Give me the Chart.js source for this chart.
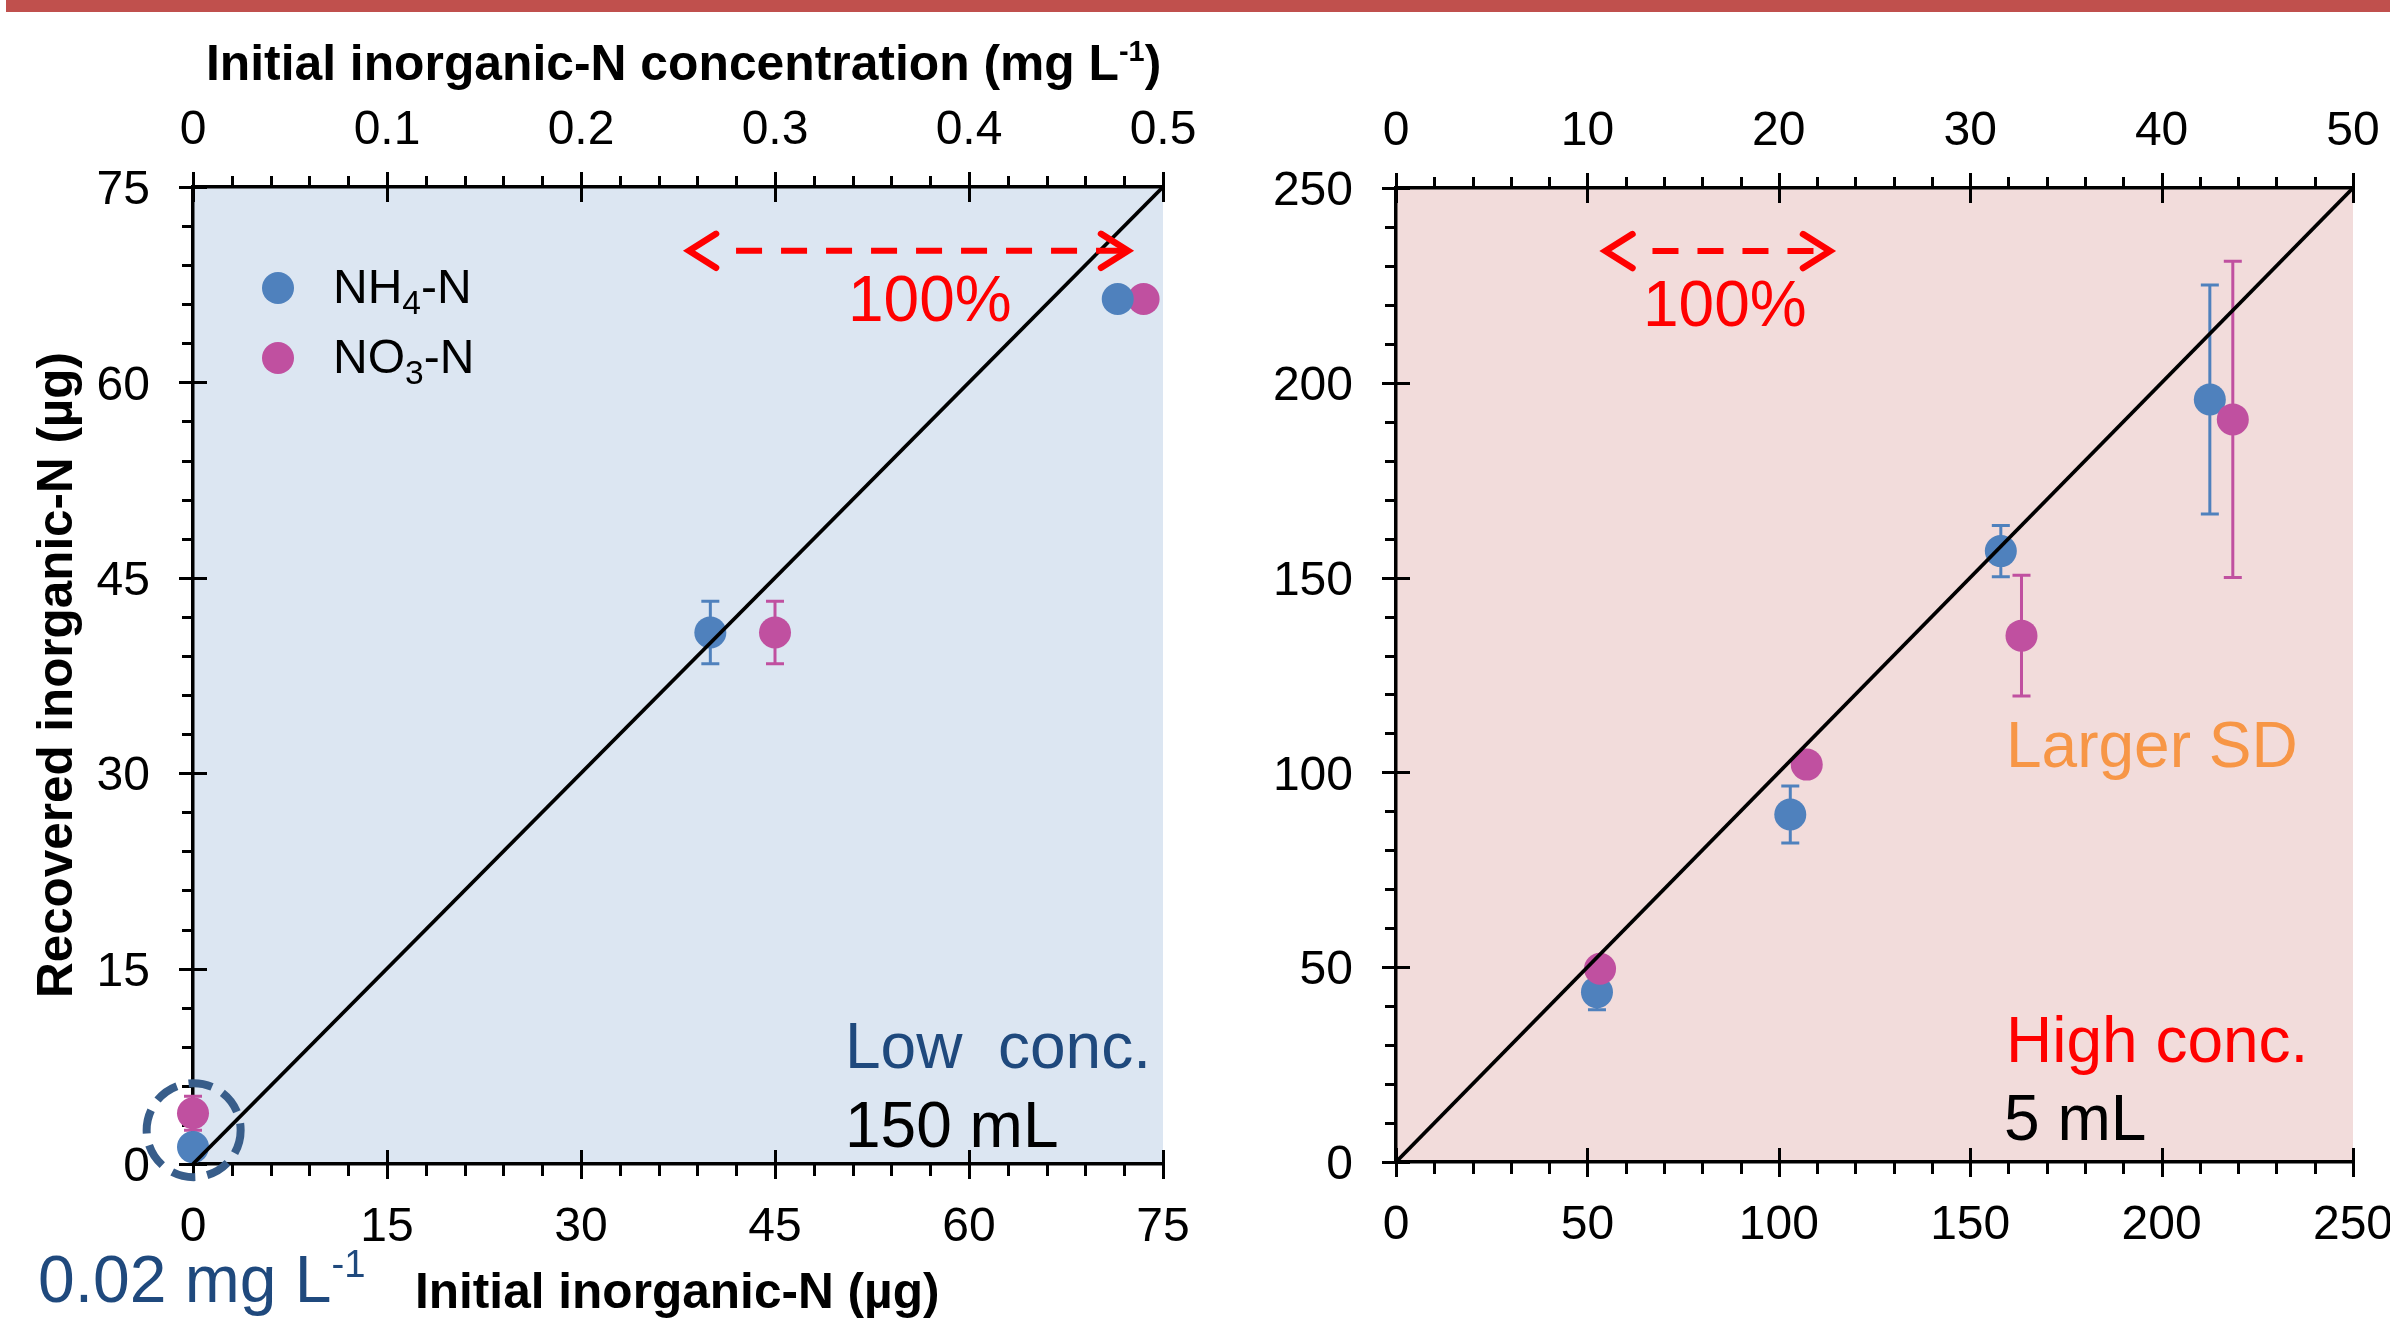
<!DOCTYPE html>
<html>
<head>
<meta charset="utf-8">
<script src="https://cdn.jsdelivr.net/npm/chart.js@4.4.1/dist/chart.umd.min.js"></script>
<style>
  body { margin: 0; width: 2390px; height: 1322px; background: #fff; overflow: hidden; position: relative; }
  #bar { position: absolute; left: 6px; top: 0; width: 2384px; height: 12px; background: #C0504D; }
  canvas { position: absolute; left: 0; top: 0; }
</style>
</head>
<body>
<div id="bar"></div>
<canvas id="low" width="2390" height="1322"></canvas>
<canvas id="high" width="2390" height="1322"></canvas>
<script>
// tick labels
const lowTicks = [0, 15, 30, 45, 60, 75];
const lowConcTicks = [0, 0.1, 0.2, 0.3, 0.4, 0.5];
const highTicks = [0, 50, 100, 150, 200, 250];
const highConcTicks = [0, 10, 20, 30, 40, 50];

// low conc. (150 mL): initial vs recovered inorganic-N (ug), with SD
const lowInitNH4 = [0, 40.0, 71.5];
const lowRecNH4 = [1.3, 40.8, 66.4];
const lowSdNH4 = [0.5, 2.4, 0];
const lowInitNO3 = [0, 45.0, 73.5];
const lowRecNO3 = [3.9, 40.8, 66.4];
const lowSdNO3 = [1.3, 2.4, 0];

// high conc. (5 mL)
const highInitNH4 = [52.5, 103.0, 158.0, 212.6];
const highRecNH4 = [43.6, 89.2, 156.8, 195.7];
const highSdNH4 = [4.5, 7.3, 6.6, 29.4];
const highInitNO3 = [53.3, 107.3, 163.4, 218.6];
const highRecNO3 = [49.6, 102.0, 135.1, 190.6];
const highSdNO3 = [0, 0, 15.5, 40.6];

const BLUE = '#4F81BD';
const PINK = '#C050A0';
const FONT = '"Liberation Sans", Arial, sans-serif';

Chart.defaults.font.family = FONT;
Chart.defaults.color = '#000';

function pts(xs, ys) {
  return xs.map((x, i) => ({ x: x, y: ys[i] }));
}

// text with sub/superscript parts: [[text, 'sub'|'sup'|null], ...]
function richText(ctx, x, y, parts, size, weight, color, rotate) {
  ctx.save();
  ctx.translate(x, y);
  if (rotate) ctx.rotate(rotate);
  ctx.fillStyle = color;
  ctx.textBaseline = 'alphabetic';
  ctx.textAlign = 'left';
  let cx = 0;
  parts.forEach(p => {
    let s = size, dy = 0;
    if (p[1] === 'sub') { s = size * 0.7; dy = size * 0.22; }
    if (p[1] === 'sup') { s = size * 0.58; dy = -size * 0.38; }
    ctx.font = weight + ' ' + s + 'px ' + FONT;
    ctx.fillText(p[0], cx, dy);
    cx += ctx.measureText(p[0]).width;
  });
  ctx.restore();
}

function drawTickMarks(chart, minor) {
  const ctx = chart.ctx, a = chart.chartArea;
  ctx.save();
  ctx.strokeStyle = '#000';
  ctx.lineWidth = 3;
  Object.keys(minor).forEach(id => {
    const s = chart.scales[id];
    const step = minor[id];
    const n = Math.round((s.max - s.min) / step);
    const majors = s.ticks.map(t => t.value);
    for (let i = 0; i <= n; i++) {
      const v = s.min + i * step;
      const isMajor = majors.some(m => Math.abs(m - v) < step / 10);
      const p = Math.round(s.getPixelForValue(v)) + 0.5;
      ctx.beginPath();
      if (s.position === 'bottom') {
        if (isMajor) { ctx.moveTo(p, a.bottom - 14); ctx.lineTo(p, a.bottom + 15); }
        else { ctx.moveTo(p, a.bottom); ctx.lineTo(p, a.bottom + 12); }
      } else if (s.position === 'top') {
        if (isMajor) { ctx.moveTo(p, a.top - 15); ctx.lineTo(p, a.top + 15); }
        else { ctx.moveTo(p, a.top); ctx.lineTo(p, a.top - 11); }
      } else {
        if (isMajor) { ctx.moveTo(a.left - 14, p); ctx.lineTo(a.left + 14, p); }
        else { ctx.moveTo(a.left, p); ctx.lineTo(a.left - 11, p); }
      }
      ctx.stroke();
    }
  });
  ctx.restore();
}

function drawErrorBars(chart) {
  const ctx = chart.ctx, xs = chart.scales.x, ys = chart.scales.y;
  ctx.save();
  ctx.lineWidth = 3;
  chart.data.datasets.forEach(ds => {
    if (!ds.sd) return;
    ctx.strokeStyle = ds.backgroundColor;
    ds.data.forEach((d, i) => {
      const e = ds.sd[i];
      if (!e) return;
      const px = xs.getPixelForValue(d.x);
      const top = ys.getPixelForValue(d.y + e), bot = ys.getPixelForValue(d.y - e);
      ctx.beginPath();
      ctx.moveTo(px, top); ctx.lineTo(px, bot);
      ctx.moveTo(px - 9, top); ctx.lineTo(px + 9, top);
      ctx.moveTo(px - 9, bot); ctx.lineTo(px + 9, bot);
      ctx.stroke();
    });
  });
  ctx.restore();
}

function drawArrow(chart, ar) {
  const ctx = chart.ctx, xs = chart.scales.x, ys = chart.scales.y;
  const x1 = xs.getPixelForValue(ar[0]), x2 = xs.getPixelForValue(ar[1]), y = ys.getPixelForValue(ar[2]);
  ctx.save();
  ctx.strokeStyle = '#FF0000';
  ctx.lineWidth = 6;
  ctx.setLineDash([26, 19]);
  ctx.beginPath();
  ctx.moveTo(x1 + 49, y); ctx.lineTo(x2 - 4, y);
  ctx.stroke();
  ctx.setLineDash([]);
  ctx.lineCap = 'round';
  ctx.lineJoin = 'miter';
  ctx.lineWidth = 6.5;
  ctx.beginPath();
  ctx.moveTo(x1 + 29, y - 17); ctx.lineTo(x1 + 2, y); ctx.lineTo(x1 + 29, y + 17);
  ctx.moveTo(x2 - 29, y - 17); ctx.lineTo(x2 - 2, y); ctx.lineTo(x2 - 29, y + 17);
  ctx.stroke();
  ctx.restore();
}

const decor = {
  id: 'decor',
  beforeDraw(chart, args, o) {
    const a = chart.chartArea, ctx = chart.ctx;
    ctx.save();
    ctx.fillStyle = o.bg;
    ctx.fillRect(a.left, a.top, a.right - a.left, a.bottom - a.top);
    ctx.restore();
  },
  beforeDatasetsDraw(chart, args, o) {
    drawTickMarks(chart, o.minor);
    drawErrorBars(chart);
  },
  afterDatasetsDraw(chart, args, o) {
    const ctx = chart.ctx;
    if (o.circle) {
      const cx = chart.scales.x.getPixelForValue(o.circle[0]);
      const cy = chart.scales.y.getPixelForValue(o.circle[1]);
      ctx.save();
      ctx.strokeStyle = '#385D8A';
      ctx.lineWidth = 8;
      ctx.setLineDash([24, 12]);
      ctx.beginPath();
      ctx.arc(cx, cy, 47, 0, Math.PI * 2);
      ctx.stroke();
      ctx.restore();
    }
    drawArrow(chart, o.arrow);
    if (o.legend) {
      o.legend.forEach(l => {
        ctx.save();
        ctx.fillStyle = l.color;
        ctx.beginPath();
        ctx.arc(l.x, l.y, 16, 0, Math.PI * 2);
        ctx.fill();
        ctx.restore();
        richText(ctx, l.x + 55, l.y + 15, l.parts, 48, 'normal', '#000');
      });
    }
    (o.texts || []).forEach(t => richText(ctx, t.x, t.y, t.parts, t.size, t.weight || 'normal', t.color, t.rotate));
  }
};

function axis(pos, min, max, ticks, pad, fit, offset) {
  return {
    type: 'linear', position: pos, min: min, max: max,
    afterBuildTicks: s => { s.ticks = ticks.map(v => ({ value: v })); },
    afterFit: fit,
    grid: { display: false, drawTicks: false },
    border: { display: true, color: '#000', width: 3.5 },
    ticks: { padding: pad, labelOffset: offset || 0, font: { size: 48 }, color: '#000', callback: v => String(v) }
  };
}

function makeChart(id, o) {
  return new Chart(document.getElementById(id), {
    type: 'scatter',
    data: { datasets: o.datasets },
    options: {
      responsive: false, animation: false, events: [],
      layout: { padding: o.padding },
      plugins: { legend: { display: false }, tooltip: { enabled: false }, decor: o.decor },
      scales: {
        x: axis('bottom', 0, o.max, o.ticks, 35, s => { s.height = o.bottomH; s.paddingLeft = 0; s.paddingRight = 0; }),
        x2: axis('top', 0, o.concMax, o.concTicks, 27, s => { s.height = o.topH; s.paddingLeft = 0; s.paddingRight = 0; }),
        y: axis('left', 0, o.max, o.ticks, 43, s => { s.width = o.yW; s.paddingTop = 0; s.paddingBottom = 0; }, 4)
      }
    },
    plugins: [decor]
  });
}

function diag(max) {
  return { data: [{ x: 0, y: 0 }, { x: max, y: max }], showLine: true, borderColor: '#000', borderWidth: 3.8, pointRadius: 0, clip: false };
}
function dots(xs, ys, sd, color) {
  return { data: pts(xs, ys), sd: sd, backgroundColor: color, borderWidth: 0, pointRadius: 16, clip: false };
}

makeChart('low', {
  max: 75, ticks: lowTicks, concMax: 0.5, concTicks: lowConcTicks,
  padding: { left: 0, top: 0, right: 2390 - 1163, bottom: 0 },
  yW: 193, topH: 187, bottomH: 1322 - 1164,
  datasets: [diag(75), dots(lowInitNH4, lowRecNH4, lowSdNH4, BLUE), dots(lowInitNO3, lowRecNO3, lowSdNO3, PINK)],
  decor: {
    bg: '#DCE6F2',
    minor: { x: 3, x2: 0.02, y: 3 },
    circle: [0.05, 2.6],
    arrow: [38.2, 72.45, 70.1],
    legend: [
      { x: 278, y: 288, color: BLUE, parts: [['NH'], ['4', 'sub'], ['-N']] },
      { x: 278, y: 358, color: PINK, parts: [['NO'], ['3', 'sub'], ['-N']] }
    ],
    texts: [
      { x: 206, y: 80, size: 49.8, weight: 'bold', color: '#000', parts: [['Initial inorganic-N concentration (mg L'], ['-1', 'sup'], [')']] },
      { x: 415, y: 1308, size: 49.6, weight: 'bold', color: '#000', parts: [['Initial inorganic-N (\u00b5g)']] },
      { x: 72, y: 998, size: 49.4, weight: 'bold', color: '#000', rotate: -Math.PI / 2, parts: [['Recovered inorganic-N (\u00b5g)']] },
      { x: 38, y: 1302, size: 66, color: '#1F497D', parts: [['0.02 mg L'], ['-1', 'sup']] },
      { x: 848, y: 321, size: 64, color: '#FF0000', parts: [['100%']] },
      { x: 845, y: 1068, size: 64, color: '#1F497D', parts: [['Low  conc.']] },
      { x: 845, y: 1147, size: 64, color: '#000', parts: [['150 mL']] }
    ]
  }
});

makeChart('high', {
  max: 250, ticks: highTicks, concMax: 50, concTicks: highConcTicks,
  padding: { left: 1246, top: 0, right: 2390 - 2353, bottom: 0 },
  yW: 150, topH: 188, bottomH: 1322 - 1162,
  datasets: [diag(250), dots(highInitNO3, highRecNO3, highSdNO3, PINK), dots(highInitNH4, highRecNH4, highSdNH4, BLUE)],
  decor: {
    bg: '#F2DCDB',
    minor: { x: 10, x2: 2, y: 10 },
    arrow: [54.2, 113.9, 233.8],
    texts: [
      { x: 1643, y: 326, size: 64, color: '#FF0000', parts: [['100%']] },
      { x: 2006, y: 767, size: 64, color: '#F79646', parts: [['Larger SD']] },
      { x: 2006, y: 1062, size: 64, color: '#FF0000', parts: [['High conc.']] },
      { x: 2004, y: 1140, size: 64, color: '#000', parts: [['5 mL']] }
    ]
  }
});
</script>
</body>
</html>
